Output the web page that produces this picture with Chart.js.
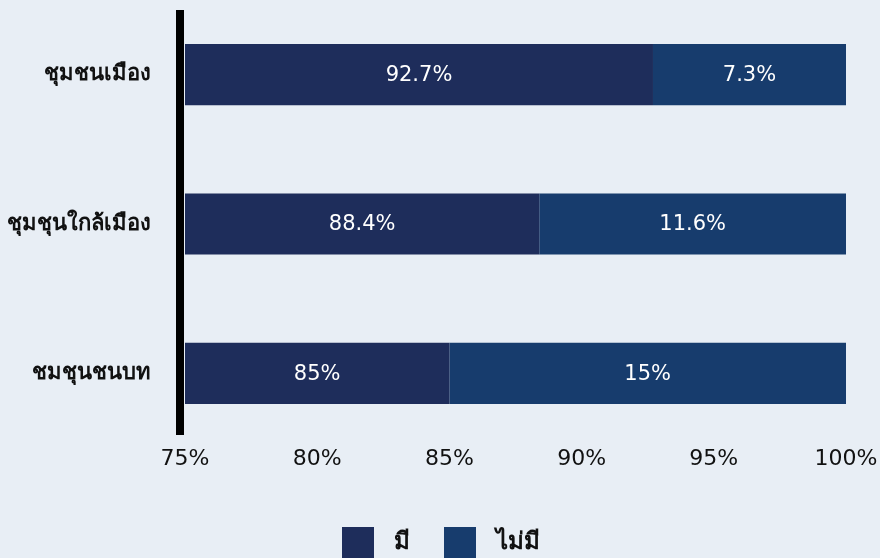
<!DOCTYPE html>
<html>
<head>
<meta charset="utf-8">
<script src="https://cdn.jsdelivr.net/npm/chart.js@4/dist/chart.umd.min.js"></script>
<style>
  html, body { margin: 0; padding: 0; background: #e8eef5; overflow: hidden; }
  #wrap { width: 880px; height: 565px; position: relative; }
</style>
</head>
<body>
<div id="wrap"><canvas id="barChart"></canvas></div>
<script>
// data
const categories = ['ชุมชนเมือง', 'ชุมชุนใกล้เมือง', 'ชมชุนชนบท'];
const haveValues = [92.7, 88.4, 85];
const haveNotValues = [7.3, 11.6, 15];
const seriesNames = ['มี', 'ไม่มี'];
const xTicks = [75, 80, 85, 90, 95, 100];

const colors = ['#1e2d5b', '#173c6d'];
const fontFamily = '"DejaVu Sans", "Noto Sans", sans-serif';

// legend squares: 32px box, empty room on the left to push the legend a bit right
function makeIcon(color) {
    const c = document.createElement('canvas');
    c.width = 70;
    c.height = 32;
    const g = c.getContext('2d');
    g.fillStyle = color;
    g.fillRect(30, 0, 32, 32);
    return c;
}
const legendIcons = colors.map(makeIcon);

// black axis bar on the left + value labels inside the visible part of each bar
const decorPlugin = {
    id: 'decor',
    afterDatasetsDraw(chart) {
        const ctx = chart.ctx;
        const area = chart.chartArea;
        ctx.save();
        ctx.fillStyle = '#000000';
        ctx.fillRect(area.left - 9, area.top + 10, 8, area.bottom - area.top - 23);

        ctx.fillStyle = '#ffffff';
        ctx.font = '21px ' + fontFamily;
        ctx.textAlign = 'center';
        ctx.textBaseline = 'middle';
        chart.data.datasets.forEach((ds, di) => {
            const meta = chart.getDatasetMeta(di);
            meta.data.forEach((bar, i) => {
                const p = bar.getProps(['x', 'y', 'base'], true);
                const left = Math.max(Math.min(p.x, p.base), area.left);
                const right = Math.min(Math.max(p.x, p.base), area.right);
                ctx.fillText(ds.data[i] + '%', (left + right) / 2, p.y + 1);
            });
        });
        ctx.restore();
    }
};

const ctx = document.getElementById('barChart').getContext('2d');
const barChart = new Chart(ctx, {
    type: 'bar',
    data: {
        labels: categories,
        datasets: [
            { label: seriesNames[0], data: haveValues, backgroundColor: colors[0], borderWidth: 0 },
            { label: seriesNames[1], data: haveNotValues, backgroundColor: colors[1], borderWidth: 0 }
        ]
    },
    options: {
        indexAxis: 'y',
        responsive: true,
        maintainAspectRatio: false,
        animation: false,
        barPercentage: 0.41,
        categoryPercentage: 1,
        layout: { padding: { top: 0, right: 34, left: 6, bottom: 0 } },
        scales: {
            x: {
                stacked: true,
                min: xTicks[0],
                max: xTicks[xTicks.length - 1],
                afterBuildTicks(scale) {
                    scale.ticks = xTicks.map(v => ({ value: v }));
                },
                afterFit(scale) {
                    scale.height = 79;
                    scale.paddingLeft = 0;
                    scale.paddingRight = 0;
                },
                grid: { display: false, drawTicks: false },
                border: { display: false },
                ticks: {
                    padding: -2,
                    color: '#111111',
                    font: { family: fontFamily, size: 22 },
                    callback: v => v + '%'
                }
            },
            y: {
                stacked: true,
                afterFit(scale) {
                    scale.width = 179;
                    scale.paddingTop = 0;
                    scale.paddingBottom = 0;
                },
                grid: { display: false, drawTicks: false },
                border: { display: false },
                ticks: {
                    padding: 34,
                    color: '#111111',
                    font: { family: fontFamily, size: 22, weight: 'bold' }
                }
            }
        },
        plugins: {
            legend: {
                position: 'bottom',
                labels: {
                    usePointStyle: true,
                    pointStyleWidth: 70,
                    padding: 4,
                    color: '#111111',
                    font: { family: fontFamily, size: 24, weight: 'bold' },
                    generateLabels(chart) {
                        const items = Chart.defaults.plugins.legend.labels.generateLabels(chart);
                        items.forEach((it, i) => { it.pointStyle = legendIcons[i]; });
                        return items;
                    }
                }
            },
            tooltip: { enabled: false }
        }
    },
    plugins: [decorPlugin]
});
</script>
</body>
</html>
